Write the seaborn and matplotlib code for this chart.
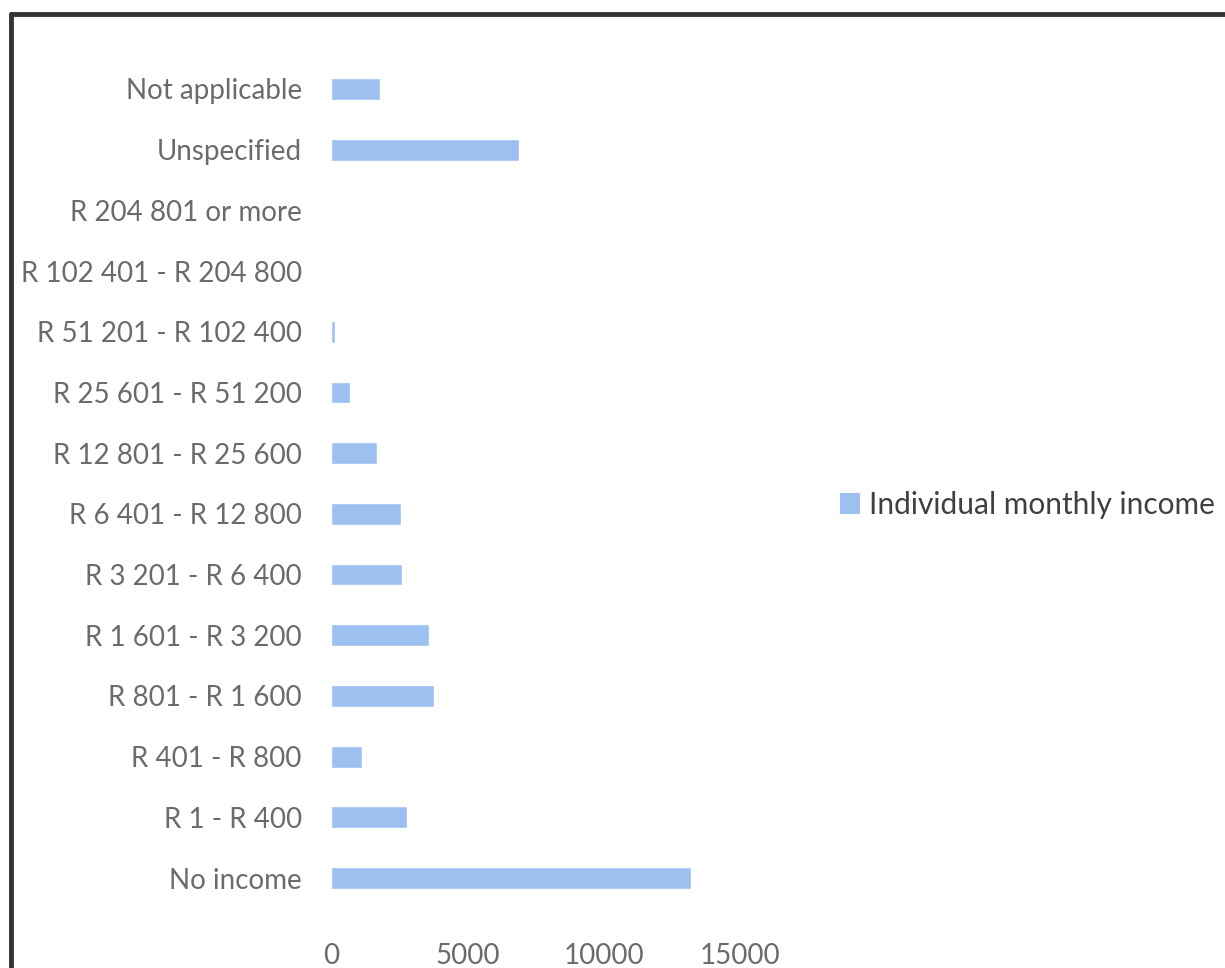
import matplotlib
matplotlib.use("Agg")
import matplotlib.pyplot as plt
import seaborn as sns
import pandas as pd
from matplotlib.lines import Line2D

categories = [
    "Not applicable",
    "Unspecified",
    "R 204 801 or more",
    "R 102 401 - R 204 800",
    "R 51 201 - R 102 400",
    "R 25 601 - R 51 200",
    "R 12 801 - R 25 600",
    "R 6 401 - R 12 800",
    "R 3 201 - R 6 400",
    "R 1 601 - R 3 200",
    "R 801 - R 1 600",
    "R 401 - R 800",
    "R 1 - R 400",
    "No income",
]
values = [1790, 6900, 10, 20, 150, 700, 1680, 2550, 2590, 3610, 3760, 1130, 2770, 13210]
series_name = "Individual monthly income"
xticks = [0, 5000, 10000, 15000]

df = pd.DataFrame({"category": categories, "value": values, "series": series_name})

sns.set_theme(style="white")
plt.rcParams["font.family"] = ["Lato", "DejaVu Sans"]

fig = plt.figure(figsize=(12.25, 9.68), dpi=100)
ax = fig.add_axes([331 / 1225, 1 - 908.4 / 968, (740 - 331) / 1225, (908.4 - 58.6) / 968])

bar_color = "#9CC0F0"
sns.barplot(data=df, y="category", x="value", hue="series", order=categories,
            palette=[bar_color], orient="h", width=0.36, ax=ax, legend=False,
            saturation=1)

ax.set_xlim(0, 15000)
ax.set_ylim(13.5, -0.5)
ax.set_xticks(xticks)
ax.set_xticklabels([str(t) for t in xticks])
ax.set_xlabel("")
ax.set_ylabel("")
for s in ax.spines.values():
    s.set_visible(False)
ax.tick_params(axis="y", length=0, pad=21, labelsize=20, labelcolor="#6b6b6b")
ax.tick_params(axis="x", length=0, pad=25, labelsize=20, labelcolor="#6b6b6b")

handle = plt.Rectangle((0, 0), 1, 1, facecolor=bar_color, edgecolor="none")
fig.legend([handle], [series_name], loc="center left",
           bbox_to_anchor=(0.664, 0.478), frameon=False, fontsize=21.5,
           handlelength=0.65, handleheight=0.7, handletextpad=0.3,
           labelcolor="#404040")

# outer border (top and left edges visible)
fig.add_artist(Line2D([10.5 / 1225, 1.0], [1 - 14 / 968, 1 - 14 / 968],
                      transform=fig.transFigure, color="#333333", linewidth=3.5))
fig.add_artist(Line2D([11 / 1225, 11 / 1225], [0.0, 1 - 14 / 968],
                      transform=fig.transFigure, color="#333333", linewidth=3.5))

fig.savefig("out.png", dpi=100)
